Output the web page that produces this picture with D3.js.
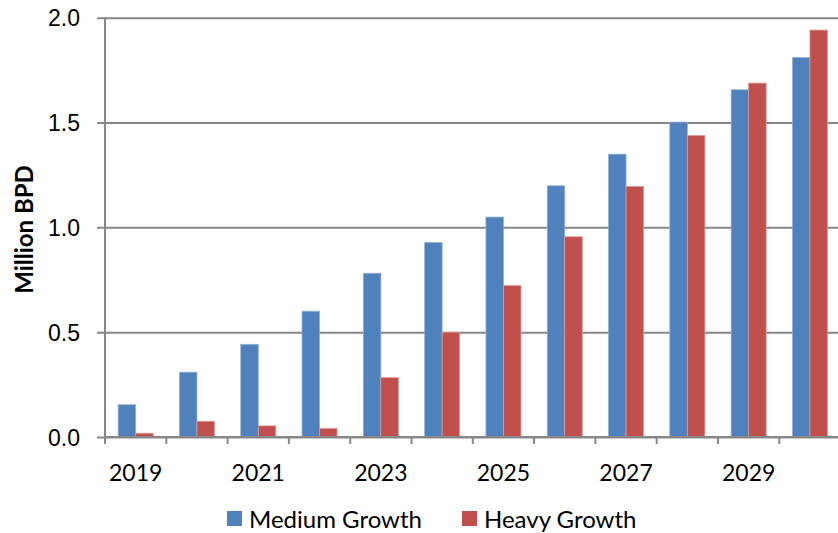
<!DOCTYPE html>
<html>
<head>
<meta charset="utf-8">
<script src="https://cdn.jsdelivr.net/npm/d3@7/dist/d3.min.js"></script>
<style>
  html, body { margin: 0; padding: 0; background: #fff; }
  svg { display: block; font-family: Lato, "Open Sans", sans-serif; }
</style>
</head>
<body>
<svg id="chart" width="838" height="533"></svg>
<script>
// Oil demand outlook, million barrels per day
const years = ["2019", "2020", "2021", "2022", "2023", "2024", "2025", "2026", "2027", "2028", "2029", "2030"];
const seriesNames = ["Medium Growth", "Heavy Growth"];
const mediumGrowth = [0.154, 0.309, 0.442, 0.600, 0.781, 0.928, 1.049, 1.198, 1.349, 1.502, 1.656, 1.810];
const heavyGrowth  = [0.018, 0.075, 0.053, 0.041, 0.283, 0.500, 0.722, 0.955, 1.195, 1.438, 1.688, 1.941];
const yTicks = [0, 0.5, 1.0, 1.5, 2.0];
const xLabelYears = ["2019", "2021", "2023", "2025", "2027", "2029"];
const colors = ["#4F81BD", "#C0504D"];
const edgeColors = ["#8FB0DA", "#E09895"];

const svg = d3.select("#chart");
const plotLeft = 105, plotRight = 840.6, plotTop = 17.7, plotBottom = 437;

const y = d3.scaleLinear().domain([0, 2]).range([plotBottom, plotTop]);

// Excel-like clustered columns: gap width 150% of one bar
const x0 = d3.scaleBand().domain(years).range([plotLeft, plotRight])
  .paddingInner(1.5 / 3.5).paddingOuter(0.75 / 3.5);
const x1 = d3.scaleBand().domain(seriesNames).range([0, x0.bandwidth()]).padding(0);
const step = x0.step();

const gridColor = "#878787";

// horizontal gridlines + y ticks
const yAxis = d3.axisLeft(y).tickValues(yTicks).tickFormat(d3.format(".1f"))
  .tickSize(0).tickPadding(0);
const gy = svg.append("g").attr("transform", `translate(${plotLeft},0)`).call(yAxis);
gy.select(".domain").remove();
gy.selectAll(".tick line")
  .attr("x1", -8).attr("x2", plotRight - plotLeft)
  .attr("stroke", gridColor).attr("stroke-width", 2);
gy.selectAll(".tick text")
  .attr("x", -25).attr("dy", "0.35em")
  .attr("font-size", 23).attr("fill", "#000");

// bars
const data = years.map((yr, i) => ({ year: yr, values: [mediumGrowth[i], heavyGrowth[i]] }));
const groups = svg.append("g").selectAll("g").data(data).join("g")
  .attr("transform", d => `translate(${x0(d.year)},0)`);
groups.selectAll("rect")
  .data(d => d.values.map((v, k) => ({ key: seriesNames[k], k, v })))
  .join("rect")
  .attr("x", d => x1(d.key))
  .attr("width", x1.bandwidth())
  .attr("y", d => y(d.v))
  .attr("height", d => y(0) - y(d.v))
  .attr("fill", d => colors[d.k])
  .attr("stroke", d => edgeColors[d.k])
  .attr("stroke-width", 0.8);

// y axis line
svg.append("line")
  .attr("x1", plotLeft).attr("x2", plotLeft).attr("y1", plotTop).attr("y2", plotBottom)
  .attr("stroke", gridColor).attr("stroke-width", 2);

// x axis with tick marks between categories
const xAxisG = svg.append("g");
xAxisG.append("line")
  .attr("x1", plotLeft).attr("x2", plotRight).attr("y1", plotBottom).attr("y2", plotBottom)
  .attr("stroke", gridColor).attr("stroke-width", 2);
xAxisG.selectAll("line.tk").data(d3.range(years.length + 1)).join("line")
  .attr("class", "tk")
  .attr("x1", i => plotLeft + i * step).attr("x2", i => plotLeft + i * step)
  .attr("y1", plotBottom).attr("y2", plotBottom + 7)
  .attr("stroke", gridColor).attr("stroke-width", 2);
xAxisG.selectAll("text").data(xLabelYears).join("text")
  .attr("x", d => x0(d) + x0.bandwidth() / 2)
  .attr("y", 480.5)
  .attr("text-anchor", "middle")
  .attr("font-size", 23).attr("fill", "#000")
  .text(d => d);

// y axis title
svg.append("text")
  .attr("transform", "translate(32.5,229.5) rotate(-90)")
  .attr("text-anchor", "middle")
  .attr("font-size", 24).attr("font-weight", "bold").attr("fill", "#000")
  .text("Million BPD");

// legend
const legendX = [227, 462];
const legend = svg.append("g").selectAll("g").data(seriesNames).join("g")
  .attr("transform", (d, i) => `translate(${legendX[i]},0)`);
legend.append("rect")
  .attr("x", 0).attr("y", 511).attr("width", 15).attr("height", 15)
  .attr("fill", (d, i) => colors[i]);
legend.append("text")
  .attr("x", 22).attr("y", 527.5)
  .attr("font-size", 24).attr("fill", "#000")
  .text(d => d);
</script>
</body>
</html>
